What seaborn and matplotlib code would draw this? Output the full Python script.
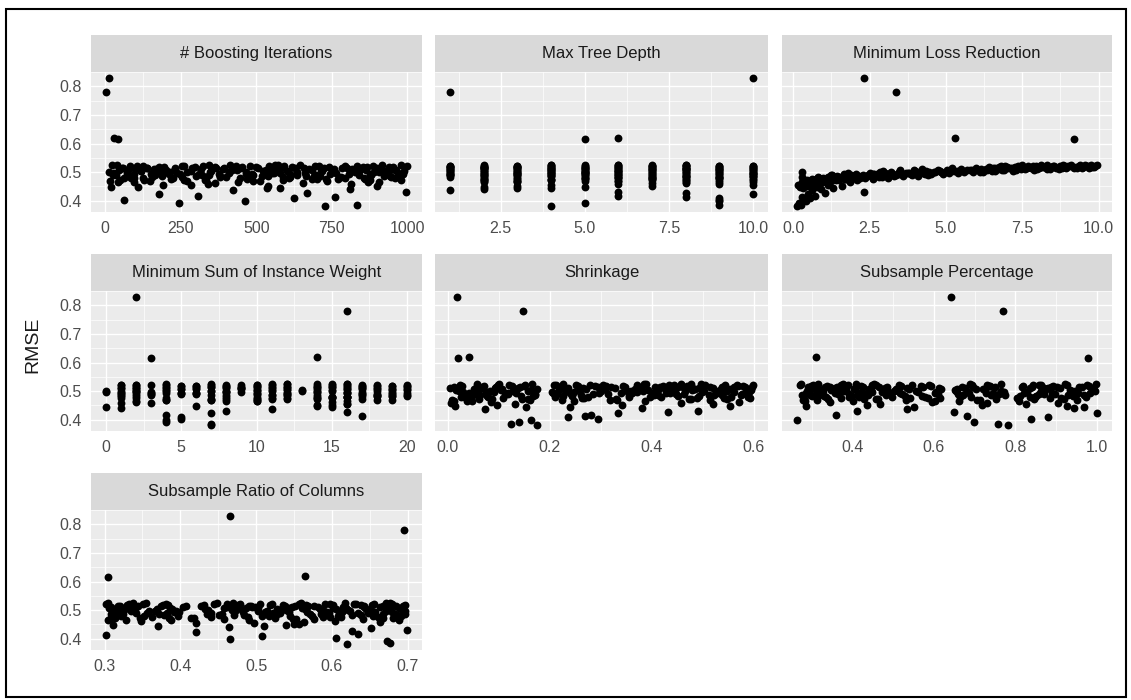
import matplotlib.pyplot as plt
import matplotlib.patches as mpatches
import seaborn as sns
import numpy as np
import pandas as pd

sns.set_style("white")
plt.rcParams['font.family'] = ['Liberation Sans', 'DejaVu Sans']

# ----------------------------------------------------------------------------
# Tuning results: one RMSE per run, plus the hyperparameter values of the run.
# Order inside every list: 20 sparse low runs, 76 main-band runs, 4 outliers,
# then a second batch of 80 band runs and a third batch of 40 lower-band runs
# ----------------------------------------------------------------------------
rmse = [
    0.383, 0.386, 0.392, 0.398, 0.403, 0.408, 0.412, 0.418, 0.422, 0.428,
    0.432, 0.436, 0.440, 0.443, 0.446, 0.449, 0.452, 0.456, 0.460, 0.464,
    0.467, 0.469, 0.471, 0.472, 0.474, 0.475, 0.477, 0.478, 0.479, 0.481,
    0.482, 0.483, 0.484, 0.486, 0.487, 0.488, 0.489, 0.490, 0.491, 0.492,
    0.493, 0.494, 0.495, 0.495, 0.496, 0.497, 0.498, 0.498, 0.499, 0.500,
    0.500, 0.501, 0.502, 0.502, 0.503, 0.504, 0.504, 0.505, 0.506, 0.506,
    0.507, 0.508, 0.508, 0.509, 0.510, 0.510, 0.511, 0.511, 0.512, 0.512,
    0.513, 0.513, 0.514, 0.514, 0.515, 0.515, 0.516, 0.516, 0.517, 0.517,
    0.518, 0.518, 0.519, 0.519, 0.520, 0.520, 0.521, 0.521, 0.522, 0.522,
    0.523, 0.523, 0.524, 0.524, 0.525, 0.526,
    0.615, 0.618, 0.779, 0.828,
    # second batch
    0.468, 0.470, 0.473, 0.476, 0.478, 0.480, 0.482, 0.484, 0.485, 0.487,
    0.488, 0.489, 0.490, 0.491, 0.492, 0.493, 0.494, 0.495, 0.496, 0.497,
    0.497, 0.498, 0.499, 0.500, 0.501, 0.501, 0.502, 0.503, 0.503, 0.504,
    0.505, 0.505, 0.506, 0.507, 0.507, 0.508, 0.509, 0.509, 0.510, 0.511,
    0.511, 0.512, 0.512, 0.513, 0.513, 0.514, 0.514, 0.515, 0.515, 0.516,
    0.516, 0.517, 0.517, 0.518, 0.518, 0.519, 0.519, 0.520, 0.520, 0.521,
    0.521, 0.522, 0.522, 0.523, 0.523, 0.524, 0.524, 0.525, 0.525, 0.526,
    0.476, 0.481, 0.486, 0.491, 0.494, 0.499, 0.502, 0.506, 0.510, 0.514,
    # third batch
    0.448, 0.452, 0.456, 0.459, 0.461, 0.463, 0.465, 0.466, 0.467, 0.468,
    0.469, 0.470, 0.471, 0.472, 0.473, 0.474, 0.475, 0.476, 0.477, 0.478,
    0.479, 0.480, 0.481, 0.482, 0.483, 0.484, 0.485, 0.486, 0.487, 0.488,
    0.489, 0.490, 0.491, 0.492, 0.493, 0.494, 0.495, 0.496, 0.497, 0.498,
]

n_iter = [
    727, 832, 243, 464, 63, 625, 760, 306, 178, 668,
    997, 424, 809, 579, 536, 108, 900, 283, 342, 870,
    43, 512, 128, 876, 335, 701, 219, 958, 64, 447,
    590, 781, 154, 923, 302, 665, 27, 488, 839, 247,
    612, 95, 744, 378, 971, 186, 553, 409, 827, 12,
    636, 272, 905, 467, 118, 719, 351, 988, 531, 203,
    862, 76, 684, 421, 759, 167, 945, 318, 580, 232,
    801, 139, 657, 395, 913, 56, 726, 288, 499, 853,
    179, 617, 364, 940, 82, 542, 793, 260, 695, 433,
    885, 107, 571, 345, 978, 22,
    42, 28, 3, 13,
    15, 488, 262, 731, 94, 856, 379, 613, 187, 942,
    540, 35, 697, 321, 808, 151, 466, 985, 238, 579,
    72, 663, 410, 890, 205, 757, 348, 524, 119, 931,
    602, 283, 845, 47, 716, 437, 963, 171, 556, 390,
    818, 98, 674, 231, 901, 505, 140, 785, 366, 629,
    58, 952, 297, 741, 454, 868, 196, 591, 323, 999,
    126, 707, 478, 834, 254, 646, 38, 917, 413, 562,
    770, 85, 690, 343, 877, 215, 530, 960, 162, 449,
    20, 540, 190, 815, 365, 655, 95, 905, 440, 270,
    735, 150, 590, 980, 330, 50, 685, 470, 860, 225,
    610, 125, 795, 400, 945, 255, 520, 75, 710, 380,
    880, 165, 635, 310, 970, 485, 210, 765, 560, 30,
]

max_depth = [
    4, 9, 5, 9, 9, 9, 8, 6, 10, 8,
    6, 1, 2, 3, 4, 5, 7, 10, 9, 8,
    3, 6, 2, 8, 4, 10, 7, 5, 9, 3,
    6, 7, 2, 10, 4, 8, 5, 1, 9, 7,
    3, 6, 2, 1, 8, 4, 10, 5, 9, 7,
    3, 1, 6, 2, 8, 4, 10, 5, 9, 7,
    1, 3, 6, 2, 8, 4, 10, 5, 9, 7,
    3, 1, 6, 2, 8, 4, 10, 5, 9, 7,
    1, 3, 6, 2, 8, 4, 10, 5, 9, 7,
    3, 1, 6, 2, 8, 4,
    5, 6, 1, 10,
    2, 3, 4, 5, 6, 7, 8, 9, 10, 6,
    8, 4, 1, 2, 3, 4, 5, 6, 7, 8,
    9, 10, 1, 2, 3, 4, 5, 6, 7, 8,
    9, 10, 1, 2, 3, 4, 5, 6, 7, 8,
    9, 10, 1, 2, 3, 4, 5, 6, 7, 8,
    9, 10, 1, 2, 3, 4, 5, 6, 7, 8,
    9, 10, 1, 2, 3, 4, 5, 6, 7, 8,
    2, 9, 7, 3, 10, 5, 6, 4, 8, 2,
    2, 3, 4, 6, 7, 8, 9, 10, 2, 3,
    5, 6, 7, 8, 9, 10, 2, 3, 4, 5,
    6, 7, 8, 9, 10, 1, 2, 3, 4, 5,
    6, 7, 8, 9, 10, 1, 2, 3, 4, 5,
]

loss_red = [
    0.12, 0.25, 0.18, 0.42, 0.35, 0.55, 0.30, 0.70, 0.48, 1.05,
    2.30, 0.62, 0.90, 0.33, 1.30, 0.78, 1.60, 1.15, 0.50, 1.85,
    0.95, 0.40, 1.40, 2.10, 0.65, 1.75, 2.60, 1.20, 0.85, 3.10,
    1.55, 2.90, 0.28, 3.60, 2.25, 4.10, 1.90, 3.35, 2.45, 4.50,
    2.75, 3.85, 1.65, 4.30, 3.00, 5.10, 2.50, 3.70, 4.85, 0.27,
    5.60, 3.20, 4.60, 6.10, 2.95, 5.35, 4.00, 6.50, 3.50, 5.85,
    6.90, 4.75, 7.30, 5.50, 6.30, 8.00, 4.20, 7.60, 6.70, 8.40,
    7.10, 5.20, 8.80, 6.00, 9.20, 7.80, 6.60, 8.60, 9.50, 7.40,
    8.20, 9.80, 6.40, 7.00, 9.00, 8.90, 6.80, 9.65, 7.70, 8.50,
    9.35, 6.95, 9.95, 7.50, 8.30, 9.10,
    9.20, 5.30, 3.35, 2.30,
    0.60, 1.10, 0.35, 1.70, 2.20, 0.80, 1.45, 2.80, 3.30, 1.95,
    2.40, 3.90, 1.25, 4.40, 3.10, 2.65, 4.90, 3.55, 1.80, 4.15,
    5.40, 3.75, 2.85, 4.65, 5.90, 3.45, 6.20, 4.35, 5.25, 6.60,
    4.80, 7.20, 5.70, 3.95, 6.35, 7.90, 5.05, 6.85, 8.30, 7.45,
    5.50, 8.70, 6.15, 9.30, 7.05, 8.05, 9.70, 6.55, 8.95, 7.65,
    9.45, 7.25, 8.45, 9.85, 6.75, 8.15, 9.25, 7.95, 8.75, 9.60,
    7.35, 9.05, 8.55, 9.90, 7.85, 8.85, 9.55, 8.10, 9.40, 9.75,
    0.75, 1.35, 2.05, 2.70, 3.25, 4.05, 4.45, 5.80, 6.45, 7.15,
    0.22, 0.45, 0.15, 0.68, 0.38, 0.58, 0.92, 0.30, 1.08, 0.72,
    0.52, 1.22, 0.85, 1.50, 0.44, 1.02, 1.68, 0.62, 1.32, 2.00,
    0.98, 1.58, 2.35, 1.12, 1.88, 0.80, 2.15, 1.42, 2.55, 1.75,
    2.95, 2.28, 1.28, 3.15, 2.62, 3.45, 2.05, 3.80, 2.85, 4.25,
]

min_weight = [
    7, 7, 4, 4, 5, 5, 17, 4, 7, 16,
    8, 11, 1, 15, 0, 6, 14, 16, 3, 10,
    2, 4, 7, 8, 10, 11, 12, 14, 15, 16,
    17, 18, 19, 1, 3, 20, 2, 10, 5, 6,
    1, 12, 16, 19, 8, 3, 14, 17, 0, 11,
    15, 2, 18, 7, 13, 10, 4, 20, 9, 16,
    6, 12, 19, 5, 14, 1, 17, 8, 11, 18,
    15, 2, 20, 9, 10, 7, 4, 12, 16, 6,
    19, 14, 5, 8, 17, 1, 11, 18, 15, 2,
    20, 10, 7, 4, 12, 16,
    3, 14, 16, 2,
    4, 7, 10, 14, 15, 16, 1, 2, 8, 11,
    12, 17, 18, 19, 20, 5, 6, 3, 14, 16,
    9, 0, 1, 2, 4, 7, 8, 10, 11, 12,
    14, 15, 16, 17, 18, 19, 20, 5, 6, 9,
    1, 2, 4, 7, 8, 10, 11, 12, 14, 15,
    16, 17, 18, 19, 20, 5, 6, 3, 9, 1,
    2, 4, 7, 8, 10, 11, 12, 14, 15, 16,
    15, 16, 18, 10, 12, 13, 19, 2, 9, 17,
    14, 15, 16, 1, 15, 2, 8, 10, 16, 18,
    19, 7, 14, 11, 12, 17, 4, 1, 2, 8,
    10, 15, 16, 18, 19, 20, 7, 11, 12, 14,
    17, 3, 6, 5, 16, 1, 4, 2, 8, 10,
]

shrinkage = [
    0.175, 0.125, 0.140, 0.163, 0.294, 0.236, 0.270, 0.280, 0.333, 0.432,
    0.490, 0.073, 0.381, 0.154, 0.240, 0.554, 0.096, 0.520, 0.006, 0.047,
    0.012, 0.318, 0.145, 0.472, 0.087, 0.541, 0.263, 0.034, 0.397, 0.589,
    0.168, 0.226, 0.451, 0.063, 0.355, 0.512, 0.118, 0.285, 0.576, 0.041,
    0.428, 0.207, 0.339, 0.134, 0.498, 0.075, 0.561, 0.247, 0.382, 0.022,
    0.466, 0.158, 0.301, 0.529, 0.104, 0.413, 0.218, 0.594, 0.051, 0.367,
    0.484, 0.176, 0.272, 0.553, 0.092, 0.439, 0.235, 0.327, 0.519, 0.005,
    0.406, 0.141, 0.583, 0.294, 0.461, 0.068, 0.348, 0.537, 0.127, 0.256,
    0.421, 0.029, 0.569, 0.311, 0.213, 0.444, 0.098, 0.372, 0.505, 0.152,
    0.279, 0.598, 0.057, 0.389, 0.226, 0.477,
    0.021, 0.041, 0.148, 0.019,
    0.008, 0.331, 0.157, 0.489, 0.079, 0.556, 0.243, 0.046, 0.412, 0.574,
    0.171, 0.215, 0.463, 0.059, 0.362, 0.527, 0.112, 0.297, 0.591, 0.031,
    0.445, 0.204, 0.351, 0.129, 0.503, 0.083, 0.548, 0.259, 0.393, 0.017,
    0.478, 0.163, 0.309, 0.535, 0.107, 0.425, 0.229, 0.586, 0.066, 0.376,
    0.493, 0.138, 0.266, 0.562, 0.094, 0.452, 0.221, 0.321, 0.514, 0.012,
    0.417, 0.149, 0.579, 0.288, 0.469, 0.071, 0.343, 0.544, 0.121, 0.251,
    0.434, 0.025, 0.566, 0.304, 0.209, 0.457, 0.101, 0.385, 0.497, 0.166,
    0.037, 0.276, 0.522, 0.114, 0.401, 0.233, 0.359, 0.482, 0.055, 0.596,
    0.015, 0.342, 0.133, 0.458, 0.086, 0.571, 0.248, 0.039, 0.387, 0.515,
    0.161, 0.224, 0.476, 0.062, 0.329, 0.547, 0.109, 0.268, 0.593, 0.027,
    0.419, 0.211, 0.356, 0.143, 0.492, 0.077, 0.538, 0.262, 0.404, 0.049,
    0.447, 0.172, 0.315, 0.582, 0.118, 0.436, 0.239, 0.528, 0.091, 0.371,
]

subsample = [
    0.781, 0.756, 0.698, 0.264, 0.839, 0.881, 0.681, 0.360, 1.000, 0.648,
    0.410, 0.535, 0.943, 0.552, 0.968, 0.927, 0.435, 0.827, 0.731, 0.602,
    0.283, 0.712, 0.457, 0.918, 0.341, 0.586, 0.803, 0.392, 0.665, 0.974,
    0.301, 0.528, 0.851, 0.437, 0.741, 0.276, 0.609, 0.896, 0.364, 0.493,
    0.822, 0.418, 0.687, 0.953, 0.322, 0.562, 0.771, 0.472, 0.938, 0.289,
    0.655, 0.379, 0.862, 0.511, 0.726, 0.348, 0.992, 0.446, 0.617, 0.311,
    0.874, 0.538, 0.403, 0.702, 0.908, 0.293, 0.481, 0.835, 0.357, 0.676,
    0.962, 0.426, 0.573, 0.815, 0.333, 0.749, 0.886, 0.464, 0.298, 0.593,
    0.981, 0.385, 0.734, 0.519, 0.857, 0.271, 0.448, 0.694, 0.926, 0.372,
    0.547, 0.844, 0.315, 0.765, 0.409, 0.998,
    0.977, 0.310, 0.770, 0.642,
    0.279, 0.705, 0.462, 0.912, 0.336, 0.579, 0.812, 0.398, 0.671, 0.968,
    0.307, 0.521, 0.858, 0.431, 0.746, 0.285, 0.603, 0.889, 0.369, 0.487,
    0.829, 0.424, 0.682, 0.947, 0.327, 0.557, 0.764, 0.476, 0.933, 0.295,
    0.651, 0.383, 0.867, 0.506, 0.721, 0.352, 0.987, 0.441, 0.612, 0.316,
    0.879, 0.533, 0.407, 0.697, 0.903, 0.291, 0.485, 0.841, 0.361, 0.668,
    0.957, 0.421, 0.568, 0.819, 0.338, 0.738, 0.892, 0.459, 0.303, 0.589,
    0.976, 0.389, 0.729, 0.514, 0.862, 0.274, 0.452, 0.689, 0.921, 0.377,
    0.542, 0.849, 0.319, 0.759, 0.413, 0.995, 0.502, 0.657, 0.871, 0.345,
    0.286, 0.718, 0.468, 0.905, 0.344, 0.596, 0.808, 0.402, 0.662, 0.951,
    0.312, 0.531, 0.846, 0.428, 0.752, 0.281, 0.614, 0.884, 0.371, 0.498,
    0.836, 0.415, 0.692, 0.941, 0.331, 0.571, 0.774, 0.482, 0.929, 0.297,
    0.659, 0.392, 0.869, 0.516, 0.727, 0.356, 0.983, 0.449, 0.606, 0.322,
]

colsample = [
    0.620, 0.676, 0.673, 0.466, 0.606, 0.508, 0.302, 0.634, 0.421, 0.626,
    0.699, 0.652, 0.464, 0.510, 0.371, 0.539, 0.550, 0.497, 0.563, 0.388,
    0.304, 0.553, 0.418, 0.667, 0.347, 0.612, 0.489, 0.691, 0.322, 0.574,
    0.451, 0.638, 0.379, 0.527, 0.309, 0.683, 0.441, 0.596, 0.356, 0.512,
    0.657, 0.398, 0.543, 0.315, 0.624, 0.472, 0.697, 0.366, 0.588, 0.436,
    0.532, 0.649, 0.312, 0.481, 0.605, 0.389, 0.564, 0.676, 0.334, 0.503,
    0.619, 0.458, 0.306, 0.688, 0.547, 0.403, 0.581, 0.341, 0.664, 0.495,
    0.318, 0.569, 0.427, 0.642, 0.538, 0.374, 0.694, 0.465, 0.601, 0.329,
    0.518, 0.653, 0.384, 0.476, 0.629, 0.302, 0.556, 0.445, 0.679, 0.351,
    0.591, 0.505, 0.671, 0.337, 0.617, 0.469,
    0.305, 0.565, 0.695, 0.465,
    0.307, 0.548, 0.414, 0.661, 0.352, 0.608, 0.484, 0.686, 0.325, 0.571,
    0.455, 0.634, 0.382, 0.522, 0.313, 0.679, 0.437, 0.593, 0.359, 0.515,
    0.651, 0.394, 0.539, 0.319, 0.621, 0.468, 0.693, 0.369, 0.584, 0.432,
    0.528, 0.645, 0.316, 0.486, 0.602, 0.386, 0.561, 0.672, 0.338, 0.499,
    0.615, 0.461, 0.309, 0.684, 0.551, 0.407, 0.577, 0.344, 0.668, 0.491,
    0.321, 0.566, 0.431, 0.639, 0.535, 0.377, 0.697, 0.462, 0.598, 0.332,
    0.521, 0.656, 0.381, 0.479, 0.632, 0.305, 0.559, 0.448, 0.676, 0.355,
    0.588, 0.508, 0.667, 0.341, 0.613, 0.472, 0.326, 0.543, 0.642, 0.493,
    0.311, 0.556, 0.421, 0.664, 0.348, 0.604, 0.491, 0.689, 0.328, 0.577,
    0.458, 0.641, 0.385, 0.525, 0.314, 0.681, 0.441, 0.597, 0.362, 0.517,
    0.654, 0.397, 0.545, 0.323, 0.627, 0.471, 0.696, 0.372, 0.586, 0.435,
    0.531, 0.648, 0.318, 0.483, 0.609, 0.391, 0.567, 0.671, 0.335, 0.502,
]

# facet titles and x breaks
panel_titles = ['# Boosting Iterations', 'Max Tree Depth', 'Minimum Loss Reduction',
                'Minimum Sum of Instance Weight', 'Shrinkage', 'Subsample Percentage',
                'Subsample Ratio of Columns']
panel_cols = ['nrounds', 'max_depth', 'gamma', 'min_child_weight', 'eta',
              'subsample', 'colsample_bytree']
x_breaks = [[0, 250, 500, 750, 1000], [2.5, 5.0, 7.5, 10.0], [0, 2.5, 5, 7.5, 10],
            [0, 5, 10, 15, 20], [0, 0.2, 0.4, 0.6], [0.4, 0.6, 0.8, 1.0],
            [0.3, 0.4, 0.5, 0.6, 0.7]]
x_labels = [['0', '250', '500', '750', '1000'], ['2.5', '5.0', '7.5', '10.0'],
            ['0.0', '2.5', '5.0', '7.5', '10.0'], ['0', '5', '10', '15', '20'],
            ['0.0', '0.2', '0.4', '0.6'], ['0.4', '0.6', '0.8', '1.0'],
            ['0.3', '0.4', '0.5', '0.6', '0.7']]
y_breaks = [0.4, 0.5, 0.6, 0.7, 0.8]

df = pd.DataFrame({'RMSE': rmse, 'nrounds': n_iter, 'max_depth': max_depth,
                   'gamma': loss_red, 'min_child_weight': min_weight, 'eta': shrinkage,
                   'subsample': subsample, 'colsample_bytree': colsample})


def gg_limits(values):
    lo, hi = min(values), max(values)
    pad = (hi - lo) * 0.05
    return lo - pad, hi + pad


def minor_breaks(breaks, lims):
    b = list(breaks)
    step = b[1] - b[0]
    if lims[0] < b[0]:
        b = [b[0] - step] + b
    if lims[1] > b[-1]:
        b = b + [b[-1] + step]
    mids = [(a + c) / 2 for a, c in zip(b[:-1], b[1:])]
    return [m for m in mids if lims[0] <= m <= lims[1]]


# ----------------------------------------------------------------------------
# Layout (pixels of the 1131x700 canvas)
# ----------------------------------------------------------------------------
W, H = 1131, 700
col_px = [(91, 422), (435, 768), (782, 1112)]
row_px = [(72, 212), (291, 431), (510, 650)]
strip_h = 37

fig = plt.figure(figsize=(W / 100, H / 100), dpi=100)
ylim = gg_limits(rmse)

for i, col in enumerate(panel_cols):
    r, c = divmod(i, 3)
    x0, x1 = col_px[c]
    y0, y1 = row_px[r]
    ax = fig.add_axes([x0 / W, 1 - y1 / H, (x1 - x0) / W, (y1 - y0) / H])
    ax.set_facecolor('#EBEBEB')

    sns.scatterplot(data=df, x=col, y='RMSE', ax=ax, color='black', s=32,
                    linewidth=0, legend=False, zorder=3)

    xlim = gg_limits(df[col])
    ax.set_xlim(xlim)
    ax.set_ylim(ylim)
    ax.set_xticks(x_breaks[i])
    ax.set_xticklabels(x_labels[i])
    ax.set_xticks(minor_breaks(x_breaks[i], xlim), minor=True)
    ax.set_yticks(y_breaks)
    ax.set_yticklabels([f'{v:.1f}' for v in y_breaks])
    ax.set_yticks(minor_breaks(y_breaks, ylim), minor=True)
    ax.grid(which='major', color='white', linewidth=1.0, zorder=0)
    ax.grid(which='minor', color='white', linewidth=0.5, zorder=0)
    ax.set_axisbelow(True)
    for sp in ax.spines.values():
        sp.set_visible(False)
    ax.set_xlabel('')
    ax.set_ylabel('')
    ax.tick_params(which='major', length=3.5, width=0.8, color='#333333',
                   labelcolor='#4D4D4D', labelsize=11.5, pad=3)
    ax.tick_params(which='minor', length=0)
    if c != 0:
        ax.tick_params(axis='y', left=False, labelleft=False)

    # facet strip
    sh = strip_h / (y1 - y0)
    ax.add_patch(mpatches.Rectangle((0, 1), 1, sh, transform=ax.transAxes,
                                    facecolor='#D9D9D9', edgecolor='none',
                                    clip_on=False, zorder=1))
    ax.text(0.5, 1 + sh / 2, panel_titles[i], transform=ax.transAxes,
            ha='center', va='center', fontsize=12, color='#1A1A1A')

fig.text(33 / W, 1 - 345 / H, 'RMSE', rotation=90, ha='center', va='center',
         fontsize=14, color='#1A1A1A')

# outer frame
fig.add_artist(mpatches.Rectangle((6 / W, 1 - 697 / H), 1120 / W, 688 / H,
                                  transform=fig.transFigure, fill=False,
                                  edgecolor='black', linewidth=1.5))

plt.savefig('out.png', dpi=100)
plt.close()
